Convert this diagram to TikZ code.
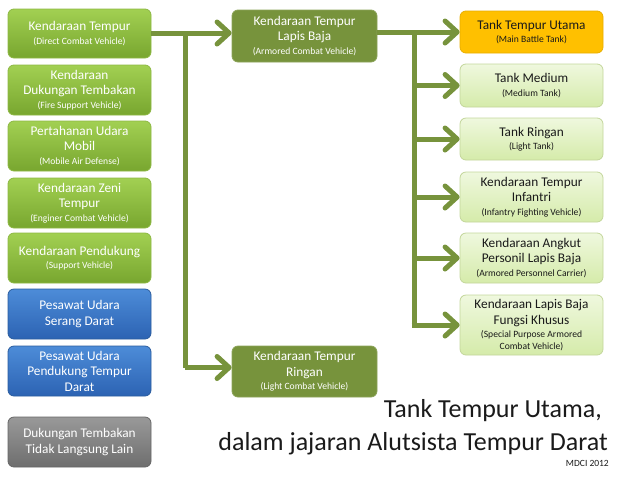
\documentclass[tikz,border=0pt]{standalone}
\usepackage{fontspec}
\setmainfont{Carlito}
\usetikzlibrary{arrows.meta,calc}
\definecolor{olive}{HTML}{77933C}
\definecolor{lgtop}{HTML}{A2D052}
\definecolor{lgbot}{HTML}{78A62F}
\definecolor{lgdraw}{HTML}{8DB843}
\definecolor{pltop}{HTML}{EFF8DE}
\definecolor{plbot}{HTML}{D5EBAA}
\definecolor{pldraw}{HTML}{C3D69B}
\definecolor{orng}{HTML}{FFC000}
\definecolor{orngd}{HTML}{E8AE00}
\definecolor{bltop}{HTML}{4D8CD8}
\definecolor{blbot}{HTML}{2C63B3}
\definecolor{bldraw}{HTML}{2A5C9E}
\definecolor{grtop}{HTML}{999999}
\definecolor{grbot}{HTML}{6E6E6E}
\definecolor{grdraw}{HTML}{666666}
\definecolor{txt}{HTML}{1A1A1A}
\newcommand{\subl}[1]{{\fontsize{9.6}{11}\selectfont #1}}
\tikzset{
  box/.style={rounded corners=6pt, minimum width=143pt, align=center, inner sep=1pt,
    font=\fontsize{13.3}{15.5}\selectfont, line width=0.8pt},
  leftg/.style={box, top color=lgtop, bottom color=lgbot, draw=lgdraw, text=white},
  leftb/.style={box, top color=bltop, bottom color=blbot, draw=bldraw, text=white},
  leftgr/.style={box, top color=grtop, bottom color=grbot, draw=grdraw, text=white},
  midbox/.style={box, minimum width=145pt, fill=olive, draw=olive!85!white, text=white},
  rightp/.style={box, top color=pltop, bottom color=plbot, draw=pldraw, text=txt},
  righto/.style={box, fill=orng, draw=orngd, text=txt},
  conn/.style={draw=olive, line width=5pt},
  arr/.style={conn, -{Straight Barb[length=12pt,width=22pt,round]}},
}
\begin{document}
\begin{tikzpicture}[x=1pt,y=-1pt]
\useasboundingbox (0,0) rectangle (620,480);
% left column
\node[leftg, minimum height=49pt] (L1) at (79.5,33.5) {Kendaraan Tempur\\[-2pt]\subl{(Direct Combat Vehicle)}};
\node[leftg, minimum height=50pt] (L2) at (79.5,90) {Kendaraan\\Dukungan Tembakan\\[-2pt]\subl{(Fire Support Vehicle)}};
\node[leftg, minimum height=50pt] (L3) at (79.5,146) {Pertahanan Udara\\Mobil\\[-2pt]\subl{(Mobile Air Defense)}};
\node[leftg, minimum height=50pt] (L4) at (79.5,203) {Kendaraan Zeni\\Tempur\\[-2pt]\subl{(Enginer Combat Vehicle)}};
\node[leftg, minimum height=50pt] (L5) at (79.5,258) {Kendaraan Pendukung\\[-2pt]\subl{(Support Vehicle)}};
\node[leftb, minimum height=50pt] (L6) at (79.5,314) {Pesawat Udara\\Serang Darat};
\node[leftb, minimum height=50pt] (L7) at (79.5,371) {Pesawat Udara\\Pendukung Tempur\\Darat};
\node[leftgr, minimum height=50pt] (L8) at (79.5,442) {Dukungan Tembakan\\Tidak Langsung Lain};
% middle column
\node[midbox, minimum height=52pt] (M1) at (304.5,36) {Kendaraan Tempur\\Lapis Baja\\[-2pt]\subl{(Armored Combat Vehicle)}};
\node[midbox, minimum height=51pt] (M2) at (304.5,371.5) {Kendaraan Tempur\\Ringan\\[-2pt]\subl{(Light Combat Vehicle)}};
% right column
\node[righto, minimum height=42pt] (R1) at (531.5,32) {Tank Tempur Utama\\[-2pt]\subl{(Main Battle Tank)}};
\node[rightp, minimum height=43pt] (R2) at (531.5,85.5) {Tank Medium\\[-2pt]\subl{(Medium Tank)}};
\node[rightp, minimum height=42pt] (R3) at (531.5,139) {Tank Ringan\\[-2pt]\subl{(Light Tank)}};
\node[rightp, minimum height=50pt] (R4) at (531.5,197) {Kendaraan Tempur\\Infantri\\[-2pt]\subl{(Infantry Fighting Vehicle)}};
\node[rightp, minimum height=50pt] (R5) at (531.5,258) {Kendaraan Angkut\\Personil Lapis Baja\\[-2pt]\subl{(Armored Personnel Carrier)}};
\node[rightp, minimum height=60pt] (R6) at (531.5,325) {Kendaraan Lapis Baja\\Fungsi Khusus\\[-2pt]\subl{(Special Purpose Armored}\\[-4pt]\subl{Combat Vehicle)}};
% connectors
\coordinate (j1) at (185,33);
\coordinate (j2) at (414,32);
\draw[arr] (L1.east |- j1) -- (j1 -| M1.west);
\draw[conn] (j1) -- ([yshift=4pt]j1 |- M2.west);
\draw[arr] ([yshift=4pt]j1 |- M2.west) -- ([yshift=4pt]M2.west);
\draw[arr] (M1.east |- j2) -- (R1.west);
\draw[conn] (j2) -- (j2 |- R6.west);
\draw[arr] (j2 |- R2.west) -- (R2.west);
\draw[arr] (j2 |- R3.west) -- (R3.west);
\draw[arr] (j2 |- R4.west) -- (R4.west);
\draw[arr] (j2 |- R5.west) -- (R5.west);
\draw[arr] ([xshift=-2.5pt]j2 |- R6.west) -- (R6.west);
% title
\node[anchor=base east, inner sep=0pt, text=txt, font=\fontsize{26}{30}\selectfont] (T1) at (602,417) {Tank Tempur Utama,};
\node[anchor=base east, inner sep=0pt, text=txt, font=\fontsize{26}{30}\selectfont] (T2) at (608,450) {dalam jajaran Alutsista Tempur Darat};
\node[anchor=base east, inner sep=0pt, text=txt, font=\fontsize{9.5}{10}\selectfont] (T3) at (609,466) {MDCI 2012};
\end{tikzpicture}
\end{document}
